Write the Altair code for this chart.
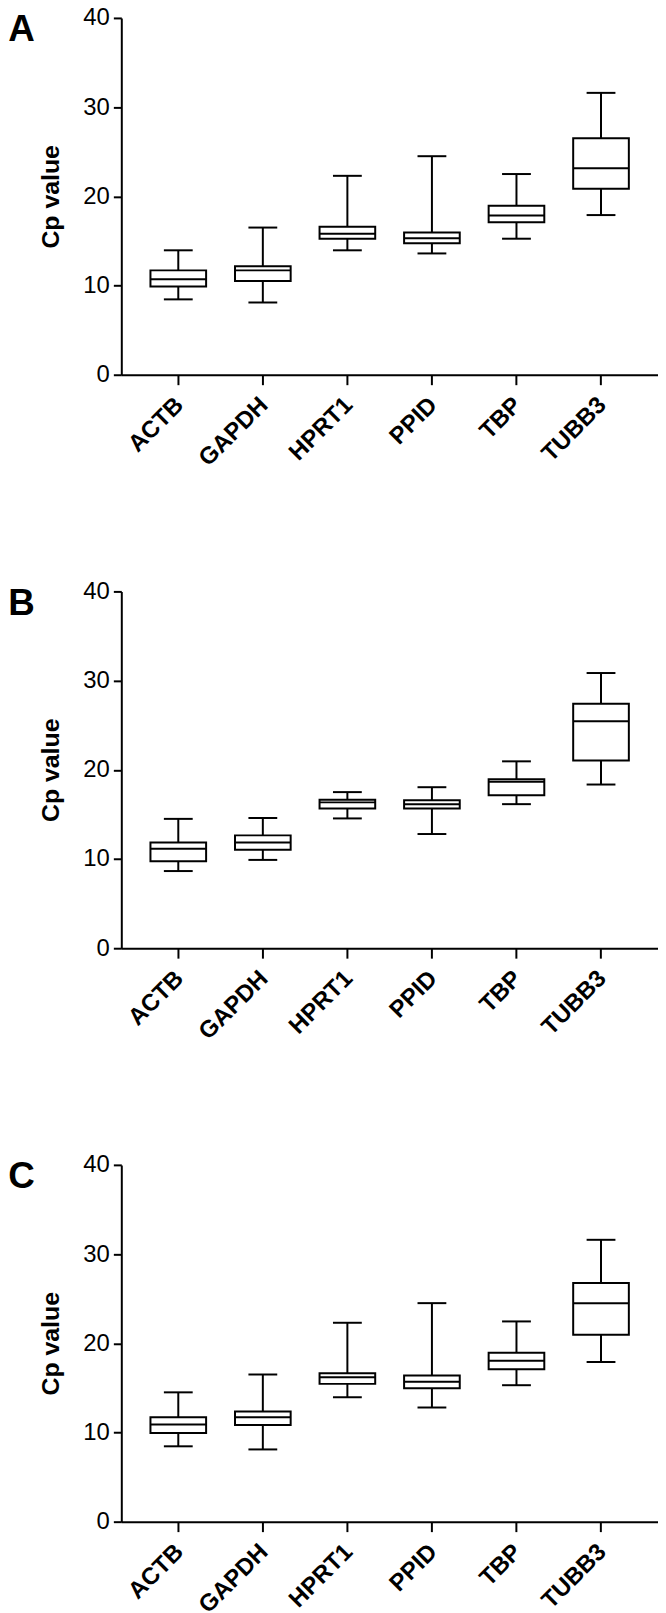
import altair as alt
import pandas as pd

genes = ["ACTB", "GAPDH", "HPRT1", "PPID", "TBP", "TUBB3"]
panel_letters = ["A", "B", "C"]

# Panel A
a_min = [8.45, 8.1, 13.95, 13.6, 15.25, 17.9]
a_q1 = [9.9, 10.5, 15.25, 14.75, 17.1, 20.85]
a_med = [10.7, 11.7, 15.8, 15.3, 17.85, 23.15]
a_q3 = [11.7, 12.15, 16.6, 15.95, 18.95, 26.5]
a_max = [13.95, 16.5, 22.3, 24.5, 22.5, 31.6]

# Panel B
b_min = [8.65, 9.9, 14.55, 12.8, 16.15, 18.35]
b_q1 = [9.75, 11.05, 15.65, 15.65, 17.15, 21.05]
b_med = [11.15, 11.85, 16.35, 16.15, 18.65, 25.45]
b_q3 = [11.85, 12.65, 16.65, 16.6, 18.95, 27.4]
b_max = [14.5, 14.6, 17.5, 18.05, 20.95, 30.85]

# Panel C
c_min = [8.45, 8.1, 13.95, 12.8, 15.3, 17.9]
c_q1 = [9.95, 10.85, 15.45, 14.95, 17.1, 20.95]
c_med = [10.9, 11.7, 16.2, 15.7, 18.05, 24.5]
c_q3 = [11.7, 12.35, 16.65, 16.4, 18.95, 26.75]
c_max = [14.5, 16.5, 22.3, 24.5, 22.45, 31.6]

y_ticks = [0, 10, 20, 30, 40]

FONT = "Liberation Sans"
W, H = 540, 359
LW = 2


def panel(letter, mn, q1, med, q3, mx):
    df = pd.DataFrame({"gene": genes, "mn": mn, "q1": q1, "med": med, "q3": q3, "mx": mx})
    xenc = alt.X(
        "gene:N",
        sort=genes,
        title=None,
        scale=alt.Scale(paddingInner=0.3, paddingOuter=0.324),
        axis=alt.Axis(labelAngle=-45),
    )
    yscale = alt.Scale(domain=[0, 40], nice=False)
    yaxis = alt.Axis(values=y_ticks, title="Cp value", titleX=-58, titleY=H / 2)
    base = alt.Chart(df)
    whisk = base.mark_rule(color="black", strokeWidth=LW).encode(
        x=xenc, y=alt.Y("mn:Q", scale=yscale, axis=yaxis), y2="mx:Q"
    )
    cap_lo = base.mark_tick(color="black", size=29, thickness=LW, opacity=1).encode(
        x=xenc, y=alt.Y("mn:Q", scale=yscale, axis=yaxis))
    cap_hi = base.mark_tick(color="black", size=29, thickness=LW, opacity=1).encode(
        x=xenc, y=alt.Y("mx:Q", scale=yscale, axis=yaxis))
    box = base.mark_bar(fill="white", stroke="black", strokeWidth=LW, size=56, opacity=1).encode(
        x=xenc, y=alt.Y("q1:Q", scale=yscale, axis=yaxis), y2="q3:Q"
    )
    median = base.mark_tick(color="black", size=56, thickness=LW, opacity=1).encode(
        x=xenc, y=alt.Y("med:Q", scale=yscale, axis=yaxis))
    lab = alt.Chart(pd.DataFrame({"t": [letter]})).mark_text(
        font=FONT, fontSize=37, fontWeight="bold", align="left", baseline="alphabetic", color="black"
    ).encode(text="t:N", x=alt.value(-113.7), y=alt.value(23.5))
    return alt.layer(whisk, box, median, cap_lo, cap_hi, lab).properties(width=W, height=H)


chart = alt.vconcat(
    panel("A", a_min, a_q1, a_med, a_q3, a_max),
    panel("B", b_min, b_q1, b_med, b_q3, b_max),
    panel("C", c_min, c_q1, c_med, c_q3, c_max),
    spacing=109,
).properties(
    padding={"left": 0, "top": -7, "right": 0, "bottom": 10},
    background="white",
).configure_view(
    strokeWidth=0
).configure_axis(
    labelFont=FONT, labelFontSize=24, labelColor="black",
    tickWidth=LW, tickColor="black", domainWidth=LW, domainColor="black",
    grid=False, titleFont=FONT, titleFontSize=25, titleFontWeight="bold",
    titleColor="black",
).configure_axisX(
    labelFontWeight="bold", tickSize=10, labelPadding=8, labelOffset=-7,
).configure_axisY(
    tickSize=8, labelPadding=4, titleAngle=-90, titleAlign="center", titleBaseline="bottom",
)

chart.save("out.html", embed_options={"renderer": "svg", "actions": False})
